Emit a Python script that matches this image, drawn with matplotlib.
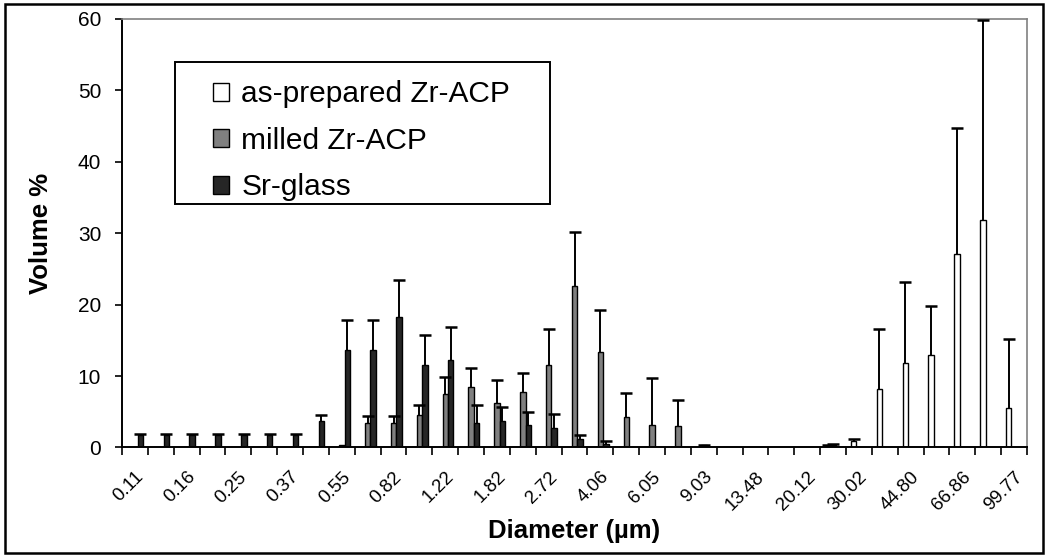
import numpy as np
import matplotlib
matplotlib.use("Agg")
import matplotlib.pyplot as plt
from matplotlib.patches import Rectangle

plt.rcParams['font.family'] = ['Liberation Sans', 'DejaVu Sans']

# size classes (um); only every other one is labelled on the axis
diameters = ["0.11", "0.13", "0.16", "0.20", "0.25", "0.30", "0.37", "0.45",
             "0.55", "0.67", "0.82", "1.00", "1.22", "1.49", "1.82", "2.23",
             "2.72", "3.32", "4.06", "4.95", "6.05", "7.39", "9.03", "11.02",
             "13.48", "16.46", "20.12", "24.57", "30.02", "36.65", "44.80",
             "54.71", "66.86", "81.64", "99.77"]

as_prepared = [0, 0, 0, 0, 0, 0, 0, 0, 0, 0, 0, 0, 0, 0, 0, 0, 0, 0, 0, 0,
               0, 0, 0, 0, 0, 0, 0, 0.2, 0.9, 8.2, 11.8, 12.9, 27.1, 31.9, 5.6]
as_prepared_err = [0, 0, 0, 0, 0, 0, 0, 0, 0, 0, 0, 0, 0, 0, 0, 0, 0, 0, 0, 0,
                   0, 0, 0, 0, 0, 0, 0, 0.1, 0.3, 8.4, 11.4, 6.9, 17.6, 27.9, 9.6]

milled = [0, 0, 0, 0, 0, 0, 0, 0, 0.3, 3.45, 3.45, 4.6, 7.5, 8.45, 6.2, 7.75,
          11.6, 22.6, 13.4, 4.3, 3.2, 3.0, 0.3, 0, 0, 0, 0, 0.35, 0, 0, 0, 0, 0, 0, 0]
milled_err = [0, 0, 0, 0, 0, 0, 0, 0, 0, 0.9, 0.9, 1.4, 2.35, 2.75, 3.3, 2.75,
              5.0, 7.6, 5.9, 3.4, 6.6, 3.6, 0.1, 0, 0, 0, 0, 0.15, 0, 0, 0, 0, 0, 0, 0]

sr_glass = [1.75, 1.75, 1.75, 1.75, 1.75, 1.75, 1.75, 3.65, 13.7, 13.7, 18.3,
            11.6, 12.3, 3.45, 3.65, 3.2, 2.76, 1.2, 0.5, 0, 0, 0, 0, 0, 0, 0, 0,
            0, 0, 0, 0, 0, 0, 0, 0]
sr_glass_err = [0.1, 0.1, 0.1, 0.1, 0.1, 0.1, 0.1, 0.95, 4.1, 4.1, 5.2, 4.1,
                4.6, 2.5, 2.0, 1.75, 2.0, 0.6, 0.35, 0, 0, 0, 0, 0, 0, 0, 0, 0,
                0, 0, 0, 0, 0, 0, 0]

series = [("as-prepared Zr-ACP", as_prepared, as_prepared_err, "white"),
          ("milled Zr-ACP", milled, milled_err, "#808080"),
          ("Sr-glass", sr_glass, sr_glass_err, "#262626")]

fig = plt.figure(figsize=(10.5, 5.55), dpi=100)
ax = fig.add_axes([0.1162, 0.1937, 0.8619, 0.7721])

x = np.arange(len(diameters))
w = 0.21
for k, (name, vals, err, col) in enumerate(series):
    pos = x + (k - 1) * w
    ax.bar(pos, vals, w, color=col, edgecolor="black", linewidth=1.0, label=name,
           zorder=2)
    vals = np.array(vals)
    err = np.array(err)
    m = err > 0
    # upper whisker only, with a cap at its end
    ax.vlines(pos[m], vals[m], vals[m] + err[m], color="black", linewidth=1.4,
              zorder=3)
    ax.plot(pos[m], vals[m] + err[m], ls="none", marker="_", markersize=9,
            mew=1.8, color="black", zorder=3)

ax.set_xlim(-0.5, len(diameters) - 0.5)
ax.set_ylim(0, 60)
ax.set_yticks(range(0, 61, 10))
ax.tick_params(axis="y", direction="out", length=5, width=1.2, labelsize=15, pad=10)

ax.set_xticks(x[::2])
ax.set_xticklabels(diameters[::2], rotation=45, ha="right", rotation_mode="anchor",
                   fontsize=13.5)
ax.set_xticks(np.arange(len(diameters) + 1) - 0.5, minor=True)
ax.tick_params(axis="x", which="major", length=0, pad=15)
ax.tick_params(axis="x", which="minor", direction="out", length=6, width=1.2)

for s in ["left", "bottom"]:
    ax.spines[s].set_linewidth(1.4)
    ax.spines[s].set_color("black")
for s in ["top", "right"]:
    ax.spines[s].set_linewidth(1.2)
    ax.spines[s].set_color("#808080")

ax.set_ylabel("Volume %", fontsize=18.5, fontweight="bold", labelpad=18)
ax.set_xlabel("Diameter (µm)", fontsize=18.5, fontweight="bold", labelpad=4)

# legend entries without frame; the box is drawn separately to get its padding
ax.legend(loc="upper left", bbox_to_anchor=(0.1005, 0.857), fontsize=21.5,
          frameon=False, handlelength=0.55, handleheight=0.55,
          handletextpad=0.4, labelspacing=0.62, borderpad=0, borderaxespad=0)
ax.add_patch(Rectangle((0.0586, 0.5683), 0.4144, 0.3314, transform=ax.transAxes,
                       fill=False, edgecolor="black", linewidth=1.4, zorder=5))

fig.patches.append(Rectangle((5 / 1050, 2 / 555), 1038 / 1050, 549 / 555,
                             transform=fig.transFigure, fill=False,
                             edgecolor="black", linewidth=1.8))

plt.savefig("out.png", dpi=100)
